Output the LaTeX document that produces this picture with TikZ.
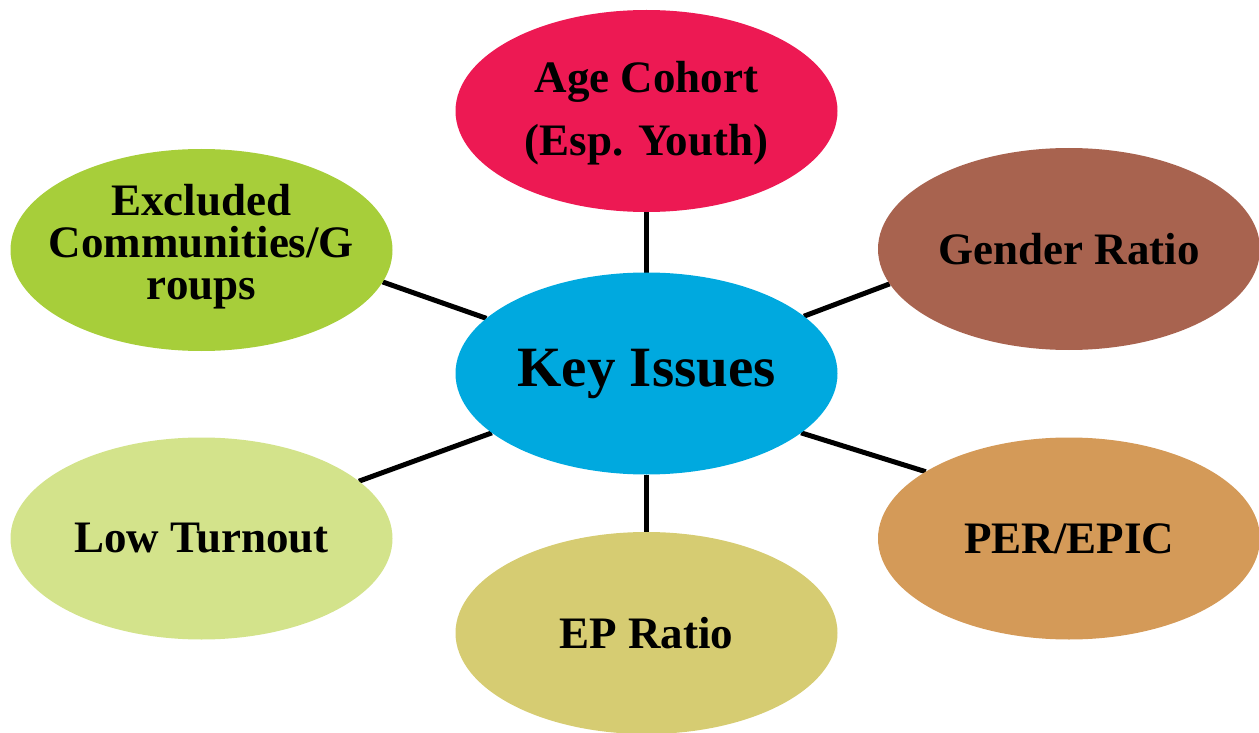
\documentclass[tikz,border=0pt]{standalone}
\usepackage{fontspec}
\setmainfont{Liberation Serif}
\usetikzlibrary{shapes.geometric,backgrounds}

\definecolor{keyblue}{HTML}{00A9DF}
\definecolor{agered}{HTML}{ED1953}
\definecolor{genderbrown}{HTML}{A8634F}
\definecolor{perorange}{HTML}{D49A58}
\definecolor{epkhaki}{HTML}{D6CC72}
\definecolor{lowgreen}{HTML}{D3E38B}
\definecolor{exclgreen}{HTML}{A7CE3A}

\tikzset{
  issue/.style={ellipse, minimum width=382pt, minimum height=202pt,
    inner sep=0pt, outer sep=0pt},
  issuetext/.style={inner sep=0pt, align=center, text=black,
    font=\bfseries\fontsize{45}{42}\selectfont},
  link/.style={line width=5pt, draw=black}
}

\begin{document}
\begin{tikzpicture}[x=1pt,y=-1pt]
\useasboundingbox (0,0) rectangle (1259,733);
\clip (0,0) rectangle (1259,733);

% ellipses
\node[issue, fill=keyblue]     (key)    at (646.5,373.5) {};
\node[issue, fill=agered]      (age)    at (646.5,111)   {};
\node[issue, fill=genderbrown] (gender) at (1069,249)    {};
\node[issue, fill=perorange]   (per)    at (1069,538.5)  {};
\node[issue, fill=epkhaki]     (ep)     at (646.5,633)   {};
\node[issue, fill=lowgreen]    (low)    at (201.5,538.5) {};
\node[issue, fill=exclgreen]   (excl)   at (201.5,250)   {};

% labels
\node[issuetext, font=\bfseries\fontsize{57}{60}\selectfont] (key-t) at (key) {Key Issues};
\node[issuetext, font=\bfseries\fontsize{45}{63}\selectfont] (age-t) at ([yshift=-2pt]age.center) {Age Cohort\\(Esp. Youth)};
\node[issuetext] (gender-t) at (gender) {Gender Ratio};
\node[issuetext] (per-t)    at (per)    {PER/EPIC};
\node[issuetext] (ep-t)     at (ep)     {EP Ratio};
\node[issuetext] (low-t)    at (low)    {Low Turnout};
\node[issuetext] (excl-t)   at ([yshift=3.5pt]excl.center) {Excluded\\Communities/G\\roups};

% spokes, behind the ellipses
\begin{scope}[on background layer]
  \draw[link] (key.90)   -- (age.-90);
  \draw[link] (key.-90)  -- (ep.90);
  \draw[link] (key.161)  -- (excl.-10);
  \draw[link] (key.-159) -- (low.20);
  \draw[link] (key.20)   -- (gender.191);
  \draw[link] (key.-21)  -- (per.155);
\end{scope}
\end{tikzpicture}
\end{document}
